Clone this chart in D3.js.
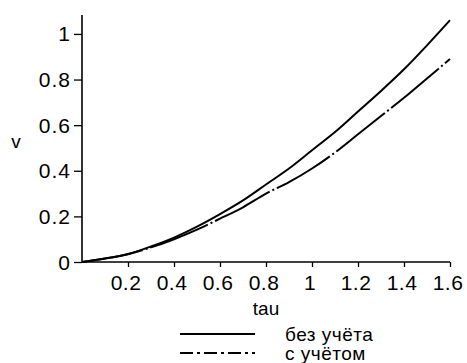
<!DOCTYPE html>
<html>
<head>
<meta charset="utf-8">
<script src="https://cdn.jsdelivr.net/npm/d3@7"></script>
<style>
  html, body { margin: 0; padding: 0; background: #fff; }
  svg { display: block; }
  text { font-family: "Liberation Sans", Arial, sans-serif; fill: #000; }
</style>
</head>
<body>
<svg id="chart" width="467" height="363"></svg>
<script>
// tau grid and the two velocity curves
const tau = [0, 0.1, 0.2, 0.3, 0.4, 0.5, 0.6, 0.7, 0.8, 0.9, 1.0, 1.1, 1.2, 1.3, 1.4, 1.5, 1.6];
const vWithout = [0, 0.015, 0.035, 0.068, 0.107, 0.155, 0.21, 0.27, 0.34, 0.41, 0.49, 0.57, 0.66, 0.75, 0.845, 0.95, 1.06];
const vWith    = [0, 0.015, 0.034, 0.064, 0.10, 0.142, 0.19, 0.24, 0.30, 0.35, 0.41, 0.48, 0.56, 0.64, 0.72, 0.805, 0.89];

const seriesNames = ["без учёта", "с учётом"];
const xTickLabels = ["0.2", "0.4", "0.6", "0.8", "1", "1.2", "1.4", "1.6"];
const yTickLabels = ["0", "0.2", "0.4", "0.6", "0.8", "1"];
const xTitle = "tau";
const yTitle = "v";

const svg = d3.select("#chart");

const x = d3.scaleLinear().domain([0, 1.6]).range([82, 450]);
const y = d3.scaleLinear().domain([0, 1.083]).range([262, 15]);

// minor ticks every 0.04
const xMinor = d3.range(0, 1.6001, 0.04);
const yMinor = d3.range(0, 1.0801, 0.04);

// x axis
const gx = svg.append("g").attr("transform", `translate(0,${y(0)})`);
gx.call(d3.axisBottom(x).tickValues(xMinor).tickSize(4).tickFormat(""))
  .call(g => g.select(".domain").remove());
gx.call(d3.axisBottom(x).tickValues(xTickLabels.map(Number)).tickSize(5).tickFormat(""))
  .call(g => g.select(".domain").remove());
gx.selectAll("line").attr("stroke", "#000").attr("stroke-width", 1.3);
gx.append("line").attr("x1", x(0)).attr("x2", x(1.6)).attr("stroke", "#000").attr("stroke-width", 1.6);
gx.selectAll(".xl").data(xTickLabels).join("text")
  .attr("x", d => x(+d) - 2).attr("y", 28)
  .attr("text-anchor", "middle").attr("font-size", 21).attr("letter-spacing", 0.5)
  .text(d => d);

// y axis
const gy = svg.append("g").attr("transform", `translate(${x(0)},0)`);
gy.call(d3.axisLeft(y).tickValues(yMinor).tickSize(4).tickFormat(""))
  .call(g => g.select(".domain").remove());
gy.call(d3.axisLeft(y).tickValues(yTickLabels.map(Number)).tickSize(8).tickFormat(""))
  .call(g => g.select(".domain").remove());
gy.selectAll("line").attr("stroke", "#000").attr("stroke-width", 1.3);
gy.append("line").attr("y1", y(0)).attr("y2", y(1.083)).attr("stroke", "#000").attr("stroke-width", 1.6);
gy.selectAll(".yl").data(yTickLabels).join("text")
  .attr("x", -11).attr("y", d => y(+d)).attr("dy", "0.36em")
  .attr("text-anchor", "end").attr("font-size", 21).attr("letter-spacing", 1)
  .text(d => d);

// axis titles
svg.append("text").attr("x", 266).attr("y", 315).attr("text-anchor", "middle")
  .attr("font-size", 19).text(xTitle);
svg.append("text").attr("x", 16).attr("y", 148).attr("text-anchor", "middle")
  .attr("font-size", 19).text(yTitle);

// curves
const line = d3.line().x(d => x(d[0])).y(d => y(d[1])).curve(d3.curveMonotoneX);
svg.append("path").datum(tau.map((t, i) => [t, vWithout[i]]))
  .attr("d", line).attr("fill", "none").attr("stroke", "#000").attr("stroke-width", 2);
svg.append("path").datum(tau.map((t, i) => [t, vWith[i]]))
  .attr("d", line).attr("fill", "none").attr("stroke", "#000").attr("stroke-width", 2)
  .attr("stroke-dasharray", "62,3,2,3");

// legend
const dashes = [null, "13,4,3,4"];
const lg = svg.append("g");
seriesNames.forEach((name, i) => {
  const yy = 334 + i * 19;
  lg.append("line").attr("x1", 180).attr("x2", 255).attr("y1", yy).attr("y2", yy)
    .attr("stroke", "#000").attr("stroke-width", 2)
    .attr("stroke-dasharray", dashes[i]);
  lg.append("text").attr("x", 285).attr("y", yy).attr("dy", "0.35em")
    .attr("font-size", 19).attr("letter-spacing", 0.5).text(name);
});
</script>
</body>
</html>
